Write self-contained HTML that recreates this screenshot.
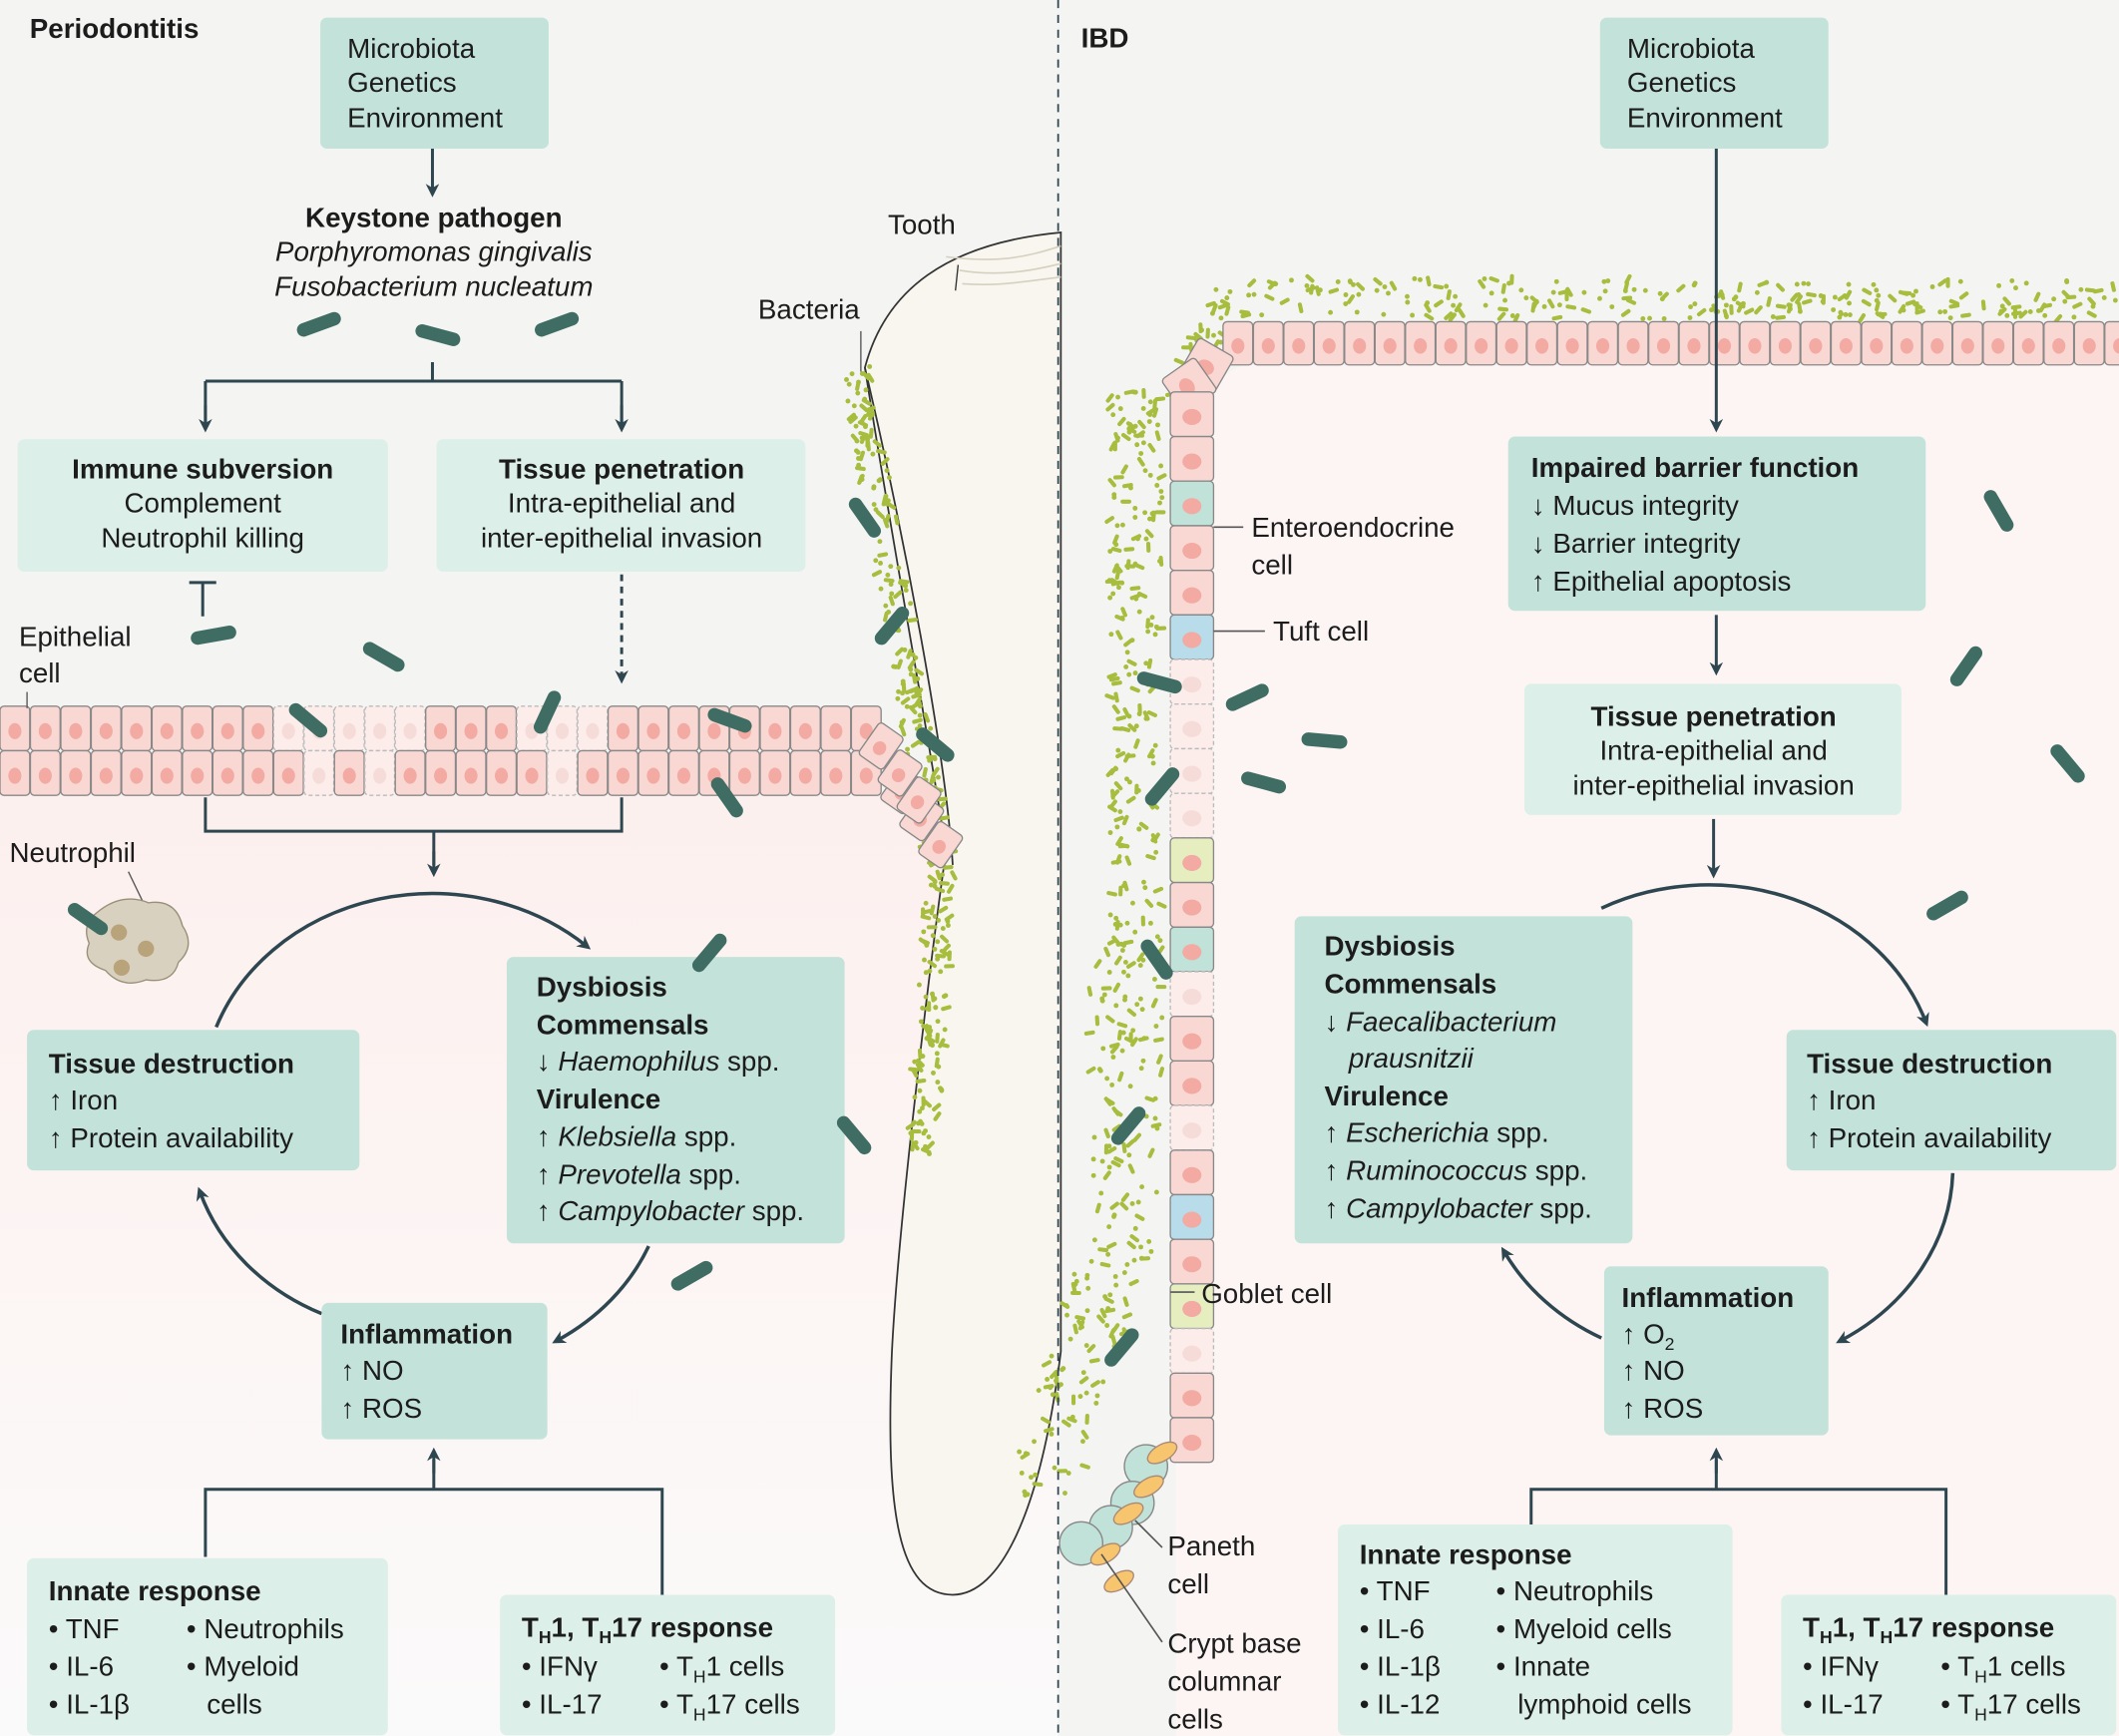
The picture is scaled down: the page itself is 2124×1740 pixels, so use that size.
<!DOCTYPE html>
<html><head><meta charset="utf-8">
<style>
html,body{margin:0;padding:0;background:#f4f4f2;}
svg{display:block}
text{font-family:"Liberation Sans",sans-serif;fill:#1c1c1c;font-size:20.5px}
.b{font-weight:bold}
.i{font-style:italic}
</style></head><body>
<svg id="s" width="2124" height="1740" viewBox="0 0 1568 1284.5" preserveAspectRatio="none" xmlns="http://www.w3.org/2000/svg">
<defs>
<marker id="ah" markerWidth="10" markerHeight="10" refX="6" refY="5" orient="auto" markerUnits="userSpaceOnUse"><path d="M0,0 L10,5 L0,10 L3,5 z" fill="#2e4650"/></marker>
<linearGradient id="pk" x1="0" y1="0" x2="0" y2="1"><stop offset="0" stop-color="#fcf0ee"/><stop offset="1" stop-color="#fbfafa"/></linearGradient>
</defs>
<rect width="1568" height="1285" fill="#f4f4f2"/>
<rect x="0" y="588" width="783" height="697" fill="url(#pk)"/>
<path d="M898,300 Q900,270 930,270 L1568,270 L1568,1285 L870,1285 L870,1070 L898,1070 Z" fill="#fdf5f4"/>
<!-- tooth -->
<path d="M640,272 C655,215 700,180 785,172 L785,1000 C770,1120 740,1180 705,1180 C665,1180 655,1120 660,1000 C665,900 690,700 700,630 C690,560 660,400 640,272 Z" fill="#f8f6ef" stroke="#333" stroke-width="1.3"/>
<path d="M700,190 C740,195 760,190 785,182 M710,200 C740,205 765,200 785,195 M712,210 C740,212 760,208 785,205" stroke="#d5d0bf" fill="none" stroke-width="1.2"/>
<path d="M640,272 C670,400 700,560 705,640" stroke="#333" fill="none" stroke-width="1.3"/>
<line x1="709" y1="196" x2="707" y2="215" stroke="#333"/>
<g id="dots"></g>
<g id="cells"></g>
<line x1="783" y1="0" x2="783" y2="1285" stroke="#2e4650" stroke-width="1.3" stroke-dasharray="6,5"/>

<!-- LEFT -->
<text x="22" y="28" class="b">Periodontitis</text>
<rect x="237" y="13" width="169" height="97" rx="5" fill="#c3e3da"/>
<text x="257" y="43">Microbiota</text><text x="257" y="68">Genetics</text><text x="257" y="94">Environment</text>
<line x1="320" y1="110" x2="320" y2="142" stroke="#2e4650" stroke-width="2.2" marker-end="url(#ah)"/>
<text x="321" y="168" text-anchor="middle" class="b">Keystone pathogen</text>
<text x="321" y="193" text-anchor="middle" class="i">Porphyromonas gingivalis</text>
<text x="321" y="219" text-anchor="middle" class="i">Fusobacterium nucleatum</text>
<path d="M320,268 V282 M152,282 H460 M152,282 V315 M460,282 V315" stroke="#2e4650" stroke-width="2.2" fill="none"/>
<line x1="152" y1="300" x2="152" y2="316" stroke="#2e4650" stroke-width="2.2" marker-end="url(#ah)"/>
<line x1="460" y1="300" x2="460" y2="316" stroke="#2e4650" stroke-width="2.2" marker-end="url(#ah)"/>
<rect x="13" y="325" width="274" height="98" rx="5" fill="#dcefe9"/>
<text x="150" y="354" text-anchor="middle" class="b">Immune subversion</text>
<text x="150" y="379" text-anchor="middle">Complement</text>
<text x="150" y="405" text-anchor="middle">Neutrophil killing</text>
<rect x="323" y="325" width="273" height="98" rx="5" fill="#dcefe9"/>
<text x="460" y="354" text-anchor="middle" class="b">Tissue penetration</text>
<text x="460" y="379" text-anchor="middle">Intra-epithelial and</text>
<text x="460" y="405" text-anchor="middle">inter-epithelial invasion</text>
<path d="M150,456 V431 M140,431 H160" stroke="#2e4650" stroke-width="2.2"/>
<line x1="460" y1="425" x2="460" y2="502" stroke="#2e4650" stroke-width="2.2" stroke-dasharray="5,4" marker-end="url(#ah)"/>
<text x="14" y="478">Epithelial</text><text x="14" y="505">cell</text>
<line x1="20" y1="512" x2="20" y2="524" stroke="#555"/>
<path d="M152,590 V615 H460 V590 M321,615 V640" stroke="#2e4650" stroke-width="2.2" fill="none"/>
<line x1="321" y1="630" x2="321" y2="645" stroke="#2e4650" stroke-width="2.2" marker-end="url(#ah)"/>
<text x="7" y="638">Neutrophil</text>
<line x1="95" y1="645" x2="108" y2="672" stroke="#555"/>
<path d="M72,675 Q90,660 110,668 Q130,665 135,685 Q145,700 132,712 Q128,728 108,725 Q90,732 78,718 Q60,712 66,698 Q60,684 72,675Z" fill="#d9d1bf" stroke="#9a8f78"/>
<circle cx="88" cy="690" r="6" fill="#b9a37a"/><circle cx="108" cy="702" r="6" fill="#b9a37a"/><circle cx="90" cy="716" r="6" fill="#b9a37a"/>
<path d="M160,760 A170,150 0 0 1 434,700" stroke="#2e4650" stroke-width="2.6" fill="none" marker-end="url(#ah)"/>
<path d="M238,972 A170,150 0 0 1 148,882" stroke="#2e4650" stroke-width="2.6" fill="none" marker-end="url(#ah)"/>
<path d="M480,922 A170,150 0 0 1 412,992" stroke="#2e4650" stroke-width="2.6" fill="none" marker-end="url(#ah)"/>
<rect x="20" y="762" width="246" height="104" rx="5" fill="#c3e3da"/>
<text x="36" y="794" class="b">Tissue destruction</text>
<text x="36" y="821">↑ Iron</text><text x="36" y="849">↑ Protein availability</text>
<rect x="375" y="708" width="250" height="212" rx="5" fill="#c3e3da"/>
<text x="397" y="737" class="b">Dysbiosis</text>
<text x="397" y="765" class="b">Commensals</text>
<text x="397" y="792">↓ <tspan class="i">Haemophilus</tspan> spp.</text>
<text x="397" y="820" class="b">Virulence</text>
<text x="397" y="848">↑ <tspan class="i">Klebsiella</tspan> spp.</text>
<text x="397" y="876">↑ <tspan class="i">Prevotella</tspan> spp.</text>
<text x="397" y="903">↑ <tspan class="i">Campylobacter</tspan> spp.</text>
<rect x="238" y="964" width="167" height="101" rx="5" fill="#c3e3da"/>
<text x="252" y="994" class="b">Inflammation</text>
<text x="252" y="1021">↑ NO</text><text x="252" y="1049">↑ ROS</text>
<path d="M152,1152 V1102 H490 V1180 M321,1102 V1080" stroke="#2e4650" stroke-width="2.2" fill="none"/>
<line x1="321" y1="1090" x2="321" y2="1075" stroke="#2e4650" stroke-width="2.2" marker-end="url(#ah)"/>
<rect x="20" y="1153" width="267" height="131" rx="5" fill="#dcefe9"/>
<text x="36" y="1184" class="b">Innate response</text>
<text x="36" y="1212">• TNF</text><text x="36" y="1240">• IL-6</text><text x="36" y="1268">• IL-1β</text>
<text x="138" y="1212">• Neutrophils</text><text x="138" y="1240">• Myeloid</text><text x="153" y="1268">cells</text>
<rect x="370" y="1180" width="248" height="104" rx="5" fill="#dcefe9"/>
<text x="386" y="1211" class="b">T<tspan font-size="13" dy="5">H</tspan><tspan dy="-5">1, T</tspan><tspan font-size="13" dy="5">H</tspan><tspan dy="-5">17 response</tspan></text>
<text x="386" y="1240">• IFNγ</text><text x="386" y="1268">• IL-17</text>
<text x="488" y="1240">• T<tspan font-size="13" dy="5">H</tspan><tspan dy="-5">1 cells</tspan></text>
<text x="488" y="1268">• T<tspan font-size="13" dy="5">H</tspan><tspan dy="-5">17 cells</tspan></text>
<text x="657" y="173">Tooth</text>
<text x="561" y="236">Bacteria</text>
<line x1="637" y1="245" x2="637" y2="275" stroke="#555"/>

<!-- RIGHT -->
<text x="800" y="35" class="b">IBD</text>
<rect x="1184" y="13" width="169" height="97" rx="5" fill="#c3e3da"/>
<text x="1204" y="43">Microbiota</text><text x="1204" y="68">Genetics</text><text x="1204" y="94">Environment</text>
<line x1="1270" y1="110" x2="1270" y2="316" stroke="#2e4650" stroke-width="2.2" marker-end="url(#ah)"/>
<rect x="1116" y="323" width="309" height="129" rx="5" fill="#c3e3da"/>
<text x="1133" y="353" class="b">Impaired barrier function</text>
<text x="1133" y="381">↓ Mucus integrity</text><text x="1133" y="409">↓ Barrier integrity</text><text x="1133" y="437">↑ Epithelial apoptosis</text>
<line x1="1270" y1="455" x2="1270" y2="496" stroke="#2e4650" stroke-width="2.2" marker-end="url(#ah)"/>
<rect x="1128" y="506" width="279" height="97" rx="5" fill="#dcefe9"/>
<text x="1268" y="537" text-anchor="middle" class="b">Tissue penetration</text>
<text x="1268" y="562" text-anchor="middle">Intra-epithelial and</text>
<text x="1268" y="588" text-anchor="middle">inter-epithelial invasion</text>
<line x1="1268" y1="606" x2="1268" y2="646" stroke="#2e4650" stroke-width="2.2" marker-end="url(#ah)"/>
<path d="M1185,672 A170,150 0 0 1 1425,756" stroke="#2e4650" stroke-width="2.6" fill="none" marker-end="url(#ah)"/>
<path d="M1445,868 A170,150 0 0 1 1362,992" stroke="#2e4650" stroke-width="2.6" fill="none" marker-end="url(#ah)"/>
<path d="M1185,990 A170,150 0 0 1 1113,926" stroke="#2e4650" stroke-width="2.6" fill="none" marker-end="url(#ah)"/>
<rect x="958" y="678" width="250" height="242" rx="5" fill="#c3e3da"/>
<text x="980" y="707" class="b">Dysbiosis</text>
<text x="980" y="735" class="b">Commensals</text>
<text x="980" y="763">↓ <tspan class="i">Faecalibacterium</tspan></text>
<text x="998" y="790" class="i">prausnitzii</text>
<text x="980" y="818" class="b">Virulence</text>
<text x="980" y="845">↑ <tspan class="i">Escherichia</tspan> spp.</text>
<text x="980" y="873">↑ <tspan class="i">Ruminococcus</tspan> spp.</text>
<text x="980" y="901">↑ <tspan class="i">Campylobacter</tspan> spp.</text>
<rect x="1322" y="762" width="244" height="104" rx="5" fill="#c3e3da"/>
<text x="1337" y="794" class="b">Tissue destruction</text>
<text x="1337" y="821">↑ Iron</text><text x="1337" y="849">↑ Protein availability</text>
<rect x="1187" y="937" width="166" height="125" rx="5" fill="#c3e3da"/>
<text x="1200" y="967" class="b">Inflammation</text>
<text x="1200" y="994">↑ O<tspan font-size="13" dy="5">2</tspan></text><text x="1200" y="1021">↑ NO</text><text x="1200" y="1049">↑ ROS</text>
<path d="M1133,1128 V1102 H1440 V1180 M1270,1102 V1080" stroke="#2e4650" stroke-width="2.2" fill="none"/>
<line x1="1270" y1="1090" x2="1270" y2="1075" stroke="#2e4650" stroke-width="2.2" marker-end="url(#ah)"/>
<rect x="990" y="1128" width="292" height="156" rx="5" fill="#dcefe9"/>
<text x="1006" y="1157" class="b">Innate response</text>
<text x="1006" y="1184">• TNF</text><text x="1006" y="1212">• IL-6</text><text x="1006" y="1240">• IL-1β</text><text x="1006" y="1268">• IL-12</text>
<text x="1107" y="1184">• Neutrophils</text><text x="1107" y="1212">• Myeloid cells</text><text x="1107" y="1240">• Innate</text><text x="1123" y="1268">lymphoid cells</text>
<rect x="1318" y="1180" width="248" height="104" rx="5" fill="#dcefe9"/>
<text x="1334" y="1211" class="b">T<tspan font-size="13" dy="5">H</tspan><tspan dy="-5">1, T</tspan><tspan font-size="13" dy="5">H</tspan><tspan dy="-5">17 response</tspan></text>
<text x="1334" y="1240">• IFNγ</text><text x="1334" y="1268">• IL-17</text>
<text x="1436" y="1240">• T<tspan font-size="13" dy="5">H</tspan><tspan dy="-5">1 cells</tspan></text>
<text x="1436" y="1268">• T<tspan font-size="13" dy="5">H</tspan><tspan dy="-5">17 cells</tspan></text>
<g stroke="#555" stroke-width="1.2">
<line x1="898" y1="390" x2="920" y2="390"/><line x1="898" y1="467" x2="936" y2="467"/>
<line x1="866" y1="956" x2="884" y2="956"/><line x1="840" y1="1125" x2="860" y2="1145"/><line x1="815" y1="1150" x2="860" y2="1215"/>
</g>
<text x="926" y="397">Enteroendocrine</text><text x="926" y="425">cell</text>
<text x="942" y="474">Tuft cell</text>
<text x="889" y="964">Goblet cell</text>
<text x="864" y="1151">Paneth</text><text x="864" y="1179">cell</text>
<text x="864" y="1223">Crypt base</text><text x="864" y="1251">columnar</text><text x="864" y="1279">cells</text>
<g id="rods"></g>
</svg>
<script>
var NS="http://www.w3.org/2000/svg";
function el(p,t,a){var e=document.createElementNS(NS,t);for(var k in a)e.setAttribute(k,a[k]);p.appendChild(e);return e;}
var seed=7;function rnd(){seed=(seed*16807)%2147483647;return seed/2147483647;}
var cells=document.getElementById('cells'),dots=document.getElementById('dots'),rods=document.getElementById('rods');
function cell(x,y,w,h,rot,dash,fill){var g=el(cells,'g',{transform:'translate('+x+','+y+') rotate('+(rot||0)+')'});
el(g,'rect',{x:-w/2,y:-h/2,width:w,height:h,rx:3,fill:fill||(dash?'#fcecea':'#f9d8d3'),stroke:dash?'#bbb':'#888','stroke-width':1,'stroke-dasharray':dash?'3,2':'none'});
el(g,'ellipse',{cx:0,cy:2,rx:w*0.22,ry:h*0.18,fill:dash?'#f6dcd8':'#f2aaa2'});}
for(var x=0;x<640;x+=22.5){var d=(x>200&&x<300)||(x>380&&x<450);cell(x+11,539,22,33,0,d);cell(x+11,572,22,33,0,d&&x%45<22);}
for(var i=0;i<3;i++){cell(652+i*14,552+i*20,22,29,35);cell(668+i*14,585+i*20,22,29,35);}
for(var x=905;x<1568;x+=22.5)cell(x+11,254,22,32,0);
[[893,270,30],[880,285,55]].forEach(function(c){cell(c[0],c[1],30,30,c[2]);});
var special={2:'#c0e2d8',5:'#b8dcea',6:'#fcecea',7:'#fcecea',8:'#fcecea',9:'#fcecea',10:'#e6eec0',12:'#c0e2d8',13:'#fcecea',16:'#fcecea',18:'#b8dcea',20:'#e6eec0',21:'#fcecea'};
var ci=0;for(var y=290;y<1070;y+=33){var f=special[ci];cell(882,y+16.5,32,33,0,f=='#fcecea',f&&f!='#fcecea'?f:null);ci++;}
[[848,1085,'#c0e2d8'],[838,1112,'#c0e2d8'],[822,1130,'#c0e2d8'],[800,1142,'#c0e2d8']].forEach(function(c){el(cells,'circle',{cx:c[0],cy:c[1],r:16,fill:c[2],stroke:'#888'});});
[[860,1075],[850,1100],[835,1120],[818,1150],[828,1170]].forEach(function(c){el(cells,'ellipse',{cx:c[0],cy:c[1],rx:12,ry:6,fill:'#f7c56e',stroke:'#a87','transform':'rotate(-30 '+c[0]+' '+c[1]+')'});});
function band(n,fx){for(var k=0;k<n;k++){var p=fx();if(rnd()<0.5)el(dots,'circle',{cx:p[0],cy:p[1],r:1.8,fill:'#a6bd3d'});else{var a=rnd()*180;el(dots,'rect',{x:p[0]-4,y:p[1]-1.5,width:8,height:3,rx:1.5,fill:'#a6bd3d',transform:'rotate('+a+' '+p[0]+' '+p[1]+')'});}}}
band(240,function(){return [920+rnd()*648,206+rnd()*30];});
band(420,function(){var y=290+rnd()*820;var w=y>700?55:40;return [860-rnd()*w-(y>900?(y-900)*0.3:0),y];});
band(50,function(){var t=rnd();return [900-t*40+rnd()*20,206+t*80+rnd()*20];});
band(300,function(){var y=270+rnd()*590;var c=y<640?633+(y-270)*0.17:696-(y-640)*0.06;return [c+(rnd()-0.5)*22,y];});
[[236,240,-20],[324,248,15],[412,240,-20],[158,470,-10],[284,486,30],[405,527,-65],[228,533,40],[540,533,20],[538,590,55],[640,383,55],[660,463,-50],[692,551,40],[65,680,35],[525,705,-50],[632,840,50],[512,944,-30],
[1479,378,60],[1455,493,-55],[1530,565,50],[1441,670,-30],[923,516,-25],[980,548,5],[935,579,15],[860,582,-50],[858,505,15],[856,710,55],[835,833,-50],[830,997,-50]].forEach(function(r){
el(rods,'rect',{x:r[0]-17,y:r[1]-5,width:34,height:10,rx:5,fill:'#3f6d63',transform:'rotate('+r[2]+' '+r[0]+' '+r[1]+')'});});
</script>
</body></html>
